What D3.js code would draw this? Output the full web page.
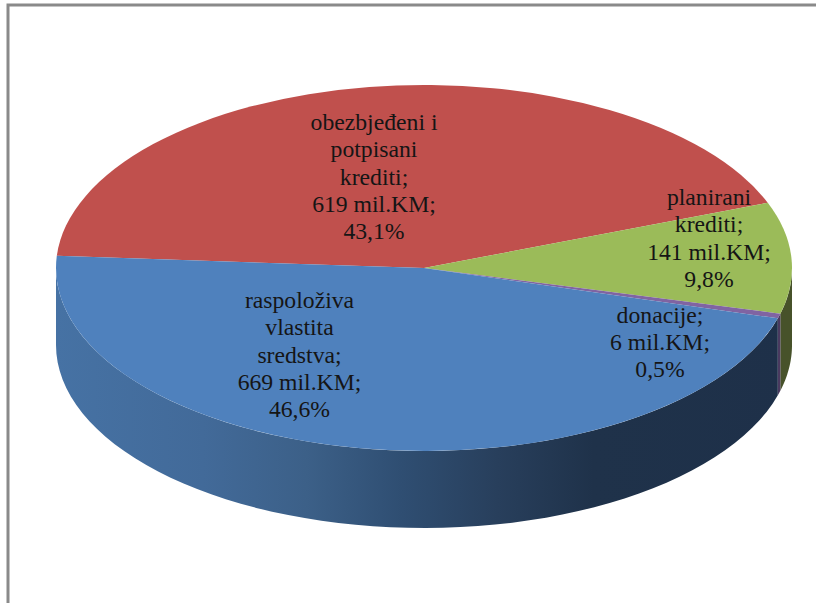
<!DOCTYPE html>
<html>
<head>
<meta charset="utf-8">
<script src="https://cdn.jsdelivr.net/npm/d3@7"></script>
<style>
  html, body { margin: 0; padding: 0; background: #fff; }
  svg { display: block; }
  text { font-family: "Liberation Serif", serif; font-size: 23.7px; fill: #151515; }
</style>
</head>
<body>
<div id="chart"></div>
<script>
const sliceValues = [619, 141, 6, 669];
const sliceColors = ["#c0504d", "#9bbb59", "#8064a2", "#4f81bd"];
const sliceLabels = [
    ["obezbjeđeni i", "potpisani", "krediti;", "619 mil.KM;", "43,1%"],
    ["planirani", "krediti;", "141 mil.KM;", "9,8%"],
    ["donacije;", "6 mil.KM;", "0,5%"],
    ["raspoloživa", "vlastita", "sredstva;", "669 mil.KM;", "46,6%"]
];

const width = 816, height = 603;
const cx = 424, cy = 268, rx = 368, ry = 183, depth = 77;
const firstAngle = -86.2 * Math.PI / 180;

// label centres, picked by eye against the picture
const labelPos = [[374, 177.6], [709, 239], [660, 343], [299.5, 355.5]];
const lineHeight = 27.3;

const svg = d3.select("#chart").append("svg")
    .attr("width", width)
    .attr("height", height);

// frame, only top and left show in the picture
svg.append("path")
    .attr("d", `M8,${height} V5 H${width}`)
    .attr("fill", "none")
    .attr("stroke", "#8a8a8a")
    .attr("stroke-width", 3);

const pie = d3.pie().sort(null).startAngle(firstAngle).endAngle(firstAngle + 2 * Math.PI);
const slices = pie(sliceValues);

const px = a => cx + rx * Math.sin(a);
const py = a => cy - ry * Math.cos(a);

// side wall gradient
const defs = svg.append("defs");
const blueGrad = defs.append("linearGradient")
    .attr("id", "sideBlue")
    .attr("gradientUnits", "userSpaceOnUse")
    .attr("x1", 56).attr("x2", 792).attr("y1", 0).attr("y2", 0);
[[0, "#4672a4"], [0.2, "#426a99"], [0.34, "#3c6088"], [0.47, "#2f4e72"], [0.6, "#283f5c"], [0.73, "#1f324a"], [1, "#1e3049"]]
    .forEach(s => blueGrad.append("stop").attr("offset", s[0]).attr("stop-color", s[1]));

const sideFill = ["#c0504d", "#47522a", "#4a3a60", "url(#sideBlue)"];

// visible wall = part of the slice between 90 and 270 degrees
const wallStart = Math.PI / 2, wallEnd = 3 * Math.PI / 2;
function wallPath(d) {
    const a0 = Math.max(d.startAngle, wallStart);
    const a1 = Math.min(d.endAngle, wallEnd);
    if (a1 <= a0) return null;
    const pts = d3.range(0, 61).map(i => a0 + (a1 - a0) * i / 60);
    const top = pts.map(a => [px(a), py(a)]);
    const bottom = pts.slice().reverse().map(a => [px(a), py(a) + depth]);
    return d3.line()(top.concat(bottom)) + "Z";
}

svg.append("g").selectAll("path")
    .data(slices)
    .join("path")
    .attr("d", wallPath)
    .attr("fill", (d, i) => sideFill[i]);

const arc = d3.arc().innerRadius(0).outerRadius(rx);

svg.append("g")
    .attr("transform", `translate(${cx},${cy}) scale(1,${ry / rx})`)
    .selectAll("path")
    .data(slices)
    .join("path")
    .attr("d", arc)
    .attr("fill", (d, i) => sliceColors[i]);

const labels = svg.append("g").selectAll("text")
    .data(sliceLabels)
    .join("text")
    .attr("text-anchor", "middle")
    .attr("transform", (d, i) => `translate(${labelPos[i][0]},${labelPos[i][1]})`);

labels.selectAll("tspan")
    .data(d => d.map((line, i) => ({line, i, n: d.length})))
    .join("tspan")
    .attr("x", 0)
    .attr("y", d => (d.i - (d.n - 1) / 2) * lineHeight + 7)
    .text(d => d.line);
</script>
</body>
</html>
